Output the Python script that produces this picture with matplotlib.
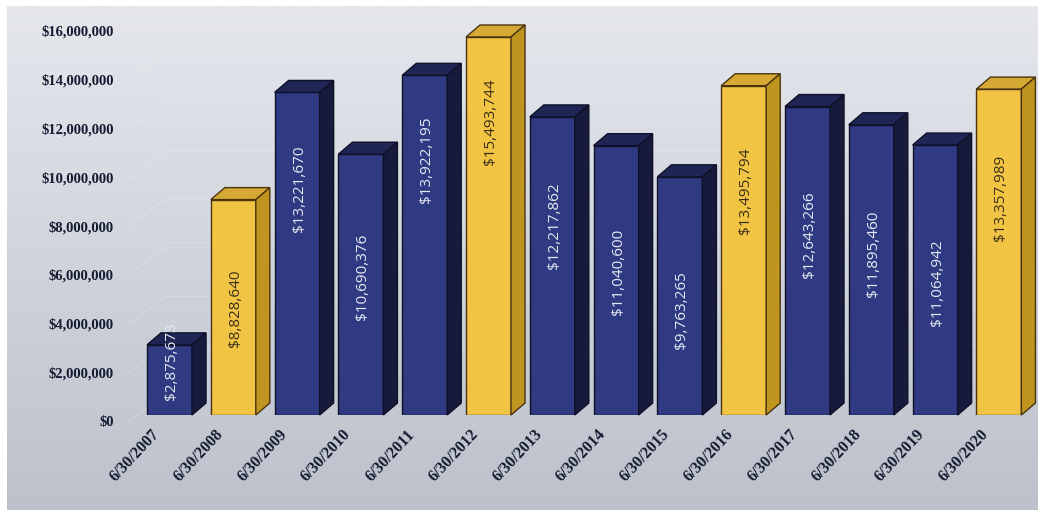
import matplotlib
matplotlib.use("Agg")
import matplotlib.pyplot as plt
from matplotlib.patches import Polygon
from matplotlib.transforms import ScaledTranslation
import numpy as np

dates = ["6/30/2007", "6/30/2008", "6/30/2009", "6/30/2010", "6/30/2011",
         "6/30/2012", "6/30/2013", "6/30/2014", "6/30/2015", "6/30/2016",
         "6/30/2017", "6/30/2018", "6/30/2019", "6/30/2020"]
values = [2875673, 8828640, 13221670, 10690376, 13922195, 15493744, 12217862,
          11040600, 9763265, 13495794, 12643266, 11895460, 11064942, 13357989]
highlight = [False, True, False, False, False, True, False,
             False, False, True, False, False, False, True]
y_ticks = [0, 2000000, 4000000, 6000000, 8000000, 10000000, 12000000, 14000000, 16000000]

# where each value label sits, as a share of the bar height (as placed in the original)
label_frac = [0.77, 0.495, 0.70, 0.53, 0.75, 0.775, 0.635,
              0.53, 0.44, 0.68, 0.585, 0.555, 0.49, 0.665]

W, H = 1038, 512
fig = plt.figure(figsize=(W / 100, H / 100), dpi=100)
fig.patch.set_facecolor("white")

# gray backdrop
bg = fig.add_axes([7 / W, 2 / H, 1 - 7 / W, (H - 8) / H])
grad = np.linspace(0, 1, 256).reshape(-1, 1)
top_c = np.array([229, 231, 237]) / 255
bot_c = np.array([188, 193, 203]) / 255
img = top_c + (bot_c - top_c) * grad[..., None]
bg.imshow(img, aspect="auto", extent=[0, 1, 0, 1])
bg.set_axis_off()

ax = fig.add_axes([125 / W, (H - 415) / H, (W - 125) / W, (415 - 24.6) / H])
ax.set_xlim(-0.6975, 13.613)
ax.set_ylim(0, 16000000)
ax.patch.set_alpha(0)
for s in ax.spines.values():
    s.set_visible(False)

# faint wall gridlines
for t in y_ticks:
    ax.plot([-0.65, -0.07, 13.6], [t - 0.29e6, t + 0.86e6, t + 0.86e6],
            color="white", alpha=0.18, lw=0.9, zorder=1, clip_on=False)

w = 0.705
dx = 0.22
dy = 0.49e6

for i, v in enumerate(values):
    if highlight[i]:
        front, topc, side, edge, txt = "#f2c443", "#d6a934", "#bf951f", "#4a3310", "#3b2f1a"
    else:
        front, topc, side, edge, txt = "#303a82", "#1f2554", "#171b3b", "#0e1128", "#e6e9f2"
    x0, x1 = i - w / 2, i + w / 2
    ax.bar(i, v, w, color=front, edgecolor=edge, linewidth=1, zorder=3)
    ax.add_patch(Polygon([(x0, v), (x0 + dx, v + dy), (x1 + dx, v + dy), (x1, v)],
                         closed=True, facecolor=topc, edgecolor=edge, lw=1, zorder=3, clip_on=False))
    ax.add_patch(Polygon([(x1, 0), (x1, v), (x1 + dx, v + dy), (x1 + dx, dy)],
                         closed=True, facecolor=side, edgecolor=edge, lw=1, zorder=3, clip_on=False))
    ax.text(i + 0.03, v * label_frac[i], f"${v:,}", rotation=90, ha="center", va="center",
            fontsize=11, family="Open Sans", color=txt, zorder=5, clip_on=False)
    ax.text(i - 0.2, -0.7e6, dates[i], rotation=47, rotation_mode="anchor", ha="right",
            va="center", fontsize=11.5, family="Liberation Serif", fontweight="bold",
            color="#141a30", clip_on=False)

ax.set_xticks([])
ax.set_yticks(y_ticks)
ax.set_yticklabels([f"${t:,}" for t in y_ticks], family="Liberation Serif",
                   fontweight="bold", fontsize=10.5, color="#141a30")
ax.tick_params(axis="y", length=0, pad=8)
shift = ScaledTranslation(0, -6 / 100, fig.dpi_scale_trans)
for lbl in ax.get_yticklabels():
    lbl.set_transform(lbl.get_transform() + shift)

fig.savefig("out.png", dpi=100)
